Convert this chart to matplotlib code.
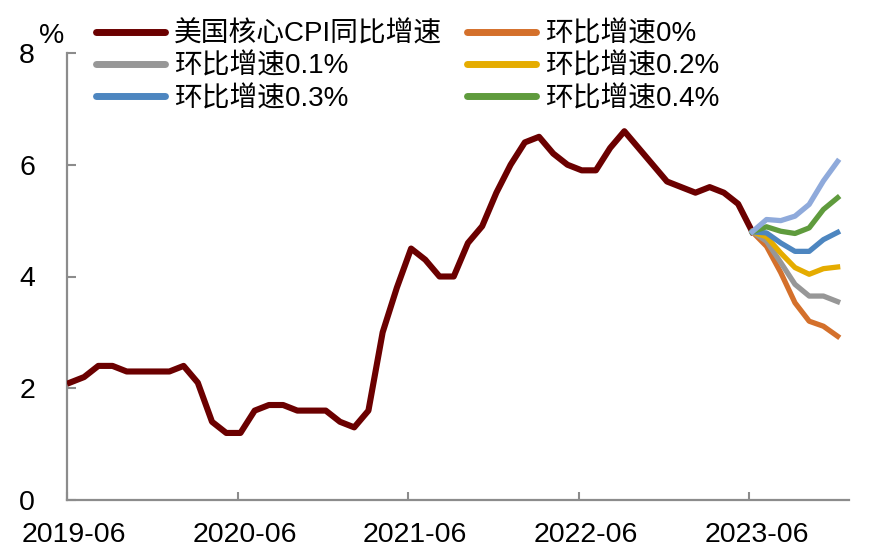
import matplotlib
matplotlib.use("Agg")
import matplotlib.pyplot as plt
from matplotlib.lines import Line2D
import matplotlib.transforms as mtrans

plt.rcParams['font.family'] = ['Liberation Sans', 'Noto Sans CJK SC', 'DejaVu Sans']

# ---- data ----
start_label = "2019-06"
core_cpi = [2.1, 2.2, 2.4, 2.4, 2.3, 2.3, 2.3,
            2.3, 2.4, 2.1, 1.4, 1.2, 1.2, 1.6, 1.7, 1.7, 1.6, 1.6, 1.6,
            1.4, 1.3, 1.6, 3.0, 3.8, 4.5, 4.3, 4.0, 4.0, 4.6, 4.9, 5.5,
            6.0, 6.4, 6.5, 6.2, 6.0, 5.9, 5.9, 6.3, 6.6, 6.3, 6.0, 5.7,
            5.6, 5.5, 5.6, 5.5, 5.3, 4.8]
# scenarios from 2023-06 to 2023-12
mom_0_0 = [4.8, 4.54, 4.07, 3.53, 3.20, 3.11, 2.93]
mom_0_1 = [4.8, 4.63, 4.25, 3.86, 3.65, 3.65, 3.55]
mom_0_2 = [4.8, 4.71, 4.42, 4.16, 4.04, 4.14, 4.17]
mom_0_3 = [4.8, 4.78, 4.60, 4.45, 4.45, 4.66, 4.79]
mom_0_4 = [4.8, 4.89, 4.81, 4.77, 4.87, 5.20, 5.41]
mom_0_5 = [4.8, 5.02, 5.00, 5.08, 5.29, 5.71, 6.06]

xtick_labels = ["2019-06", "2020-06", "2021-06", "2022-06", "2023-06"]
ytick_values = [0, 2, 4, 6, 8]

main_label = "美国核心CPI同比增速"
scen_labels = ["环比增速0%", "环比增速0.1%", "环比增速0.2%", "环比增速0.3%", "环比增速0.4%"]

# ---- plot ----
fig = plt.figure(figsize=(8.72, 5.6), dpi=100)
ax = fig.add_axes([67/872, 60/560, (849-67)/872, (500-53)/560])

shift = 0.2
x_main = [i + shift for i in range(len(core_cpi))]
s0 = len(core_cpi) - 1
x_scen = [i + shift for i in range(s0, s0 + len(mom_0_0))]

c_main = "#6B0000"
colors = ["#D4702B", "#979797", "#E5AC00", "#4D86C0", "#5F9B3D", "#8FAADB"]
series = [mom_0_0, mom_0_1, mom_0_2, mom_0_3, mom_0_4, mom_0_5]

ax.plot(x_main, core_cpi, color=c_main, lw=4.4, solid_joinstyle='round', zorder=3)
for vals, col in zip(series, colors):
    ax.plot(x_scen, vals, color=col, lw=3.8, solid_joinstyle='round', zorder=3)

ax.set_xlim(0, 55)
ax.set_ylim(0, 8)
ax.set_xticks([0, 12, 24, 36, 48])
ax.set_xticklabels(xtick_labels)
ax.set_yticks(ytick_values)

for s in ['top', 'right']:
    ax.spines[s].set_visible(False)
for s in ['left', 'bottom']:
    ax.spines[s].set_color('#8C8C8C')
    ax.spines[s].set_linewidth(1.6)

ax.tick_params(axis='both', direction='in', colors='#8C8C8C', labelcolor='black',
               labelsize=20.5, width=1.5)
ax.tick_params(axis='y', length=6.5, pad=23)
ax.tick_params(axis='x', length=6, pad=16)

offset = mtrans.ScaledTranslation(7/100, 0, fig.dpi_scale_trans)
for lbl in ax.get_xticklabels():
    lbl.set_transform(lbl.get_transform() + offset)

fig.text(52/872, 1 - 36/560, "%", ha='center', va='center', fontsize=20.5)

handles_all = [Line2D([], [], color=c_main, lw=5, solid_capstyle='round')] + \
    [Line2D([], [], color=c, lw=5, solid_capstyle='round') for c in colors[:5]]
labels_all = [main_label] + scen_labels
# matplotlib fills legend column-wise; reorder to match row-wise layout
order = [0, 2, 4, 1, 3, 5]
leg = fig.legend([handles_all[i] for i in order], [labels_all[i] for i in order],
                 ncol=2, loc='upper left', bbox_to_anchor=(96/872, 1 - 21/560),
                 frameon=False, fontsize=20, handlelength=2.5, handletextpad=0.3,
                 columnspacing=0.9, labelspacing=0.22, borderpad=0, borderaxespad=0)

fig.savefig("out.png", dpi=100)
